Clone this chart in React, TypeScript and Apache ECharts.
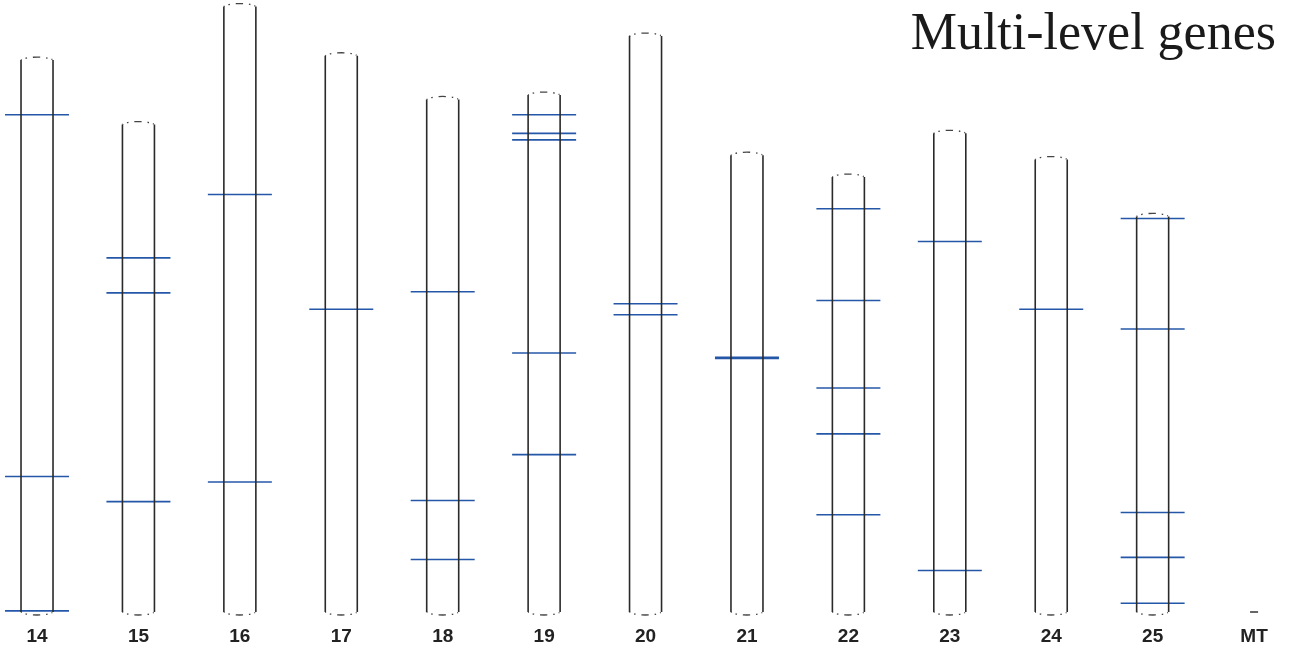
import React, { useEffect, useRef } from "react";
import * as echarts from "echarts";

// Chromosome names (x categories)
const chromosomes = ["14", "15", "16", "17", "18", "19", "20", "21", "22", "23", "24", "25", "MT"];
// Chromosome lengths (Mb, estimated)
const chromLengths = [50.5, 44.6, 55.4, 50.9, 46.9, 47.3, 52.7, 41.8, 39.8, 43.8, 41.4, 36.2, 0.05];
// Gene positions (Mb) per chromosome
const genes14 = [45.5, 12.4, 0.1];
const genes15 = [32.4, 29.2, 10.1];
const genes16 = [38.2, 11.9];
const genes17 = [27.7];
const genes18 = [29.3, 10.2, 4.8];
const genes19 = [45.5, 43.8, 43.2, 23.7, 14.4];
const genes20 = [28.2, 27.2];
const genes21 = [23.3, 23.2];
const genes22 = [36.9, 28.5, 20.5, 16.3, 8.9];
const genes23 = [33.9, 3.8];
const genes24 = [27.7];
const genes25 = [36.0, 25.9, 9.1, 5.0, 0.8];
const genesMT: number[] = [];
const geneLists = [genes14, genes15, genes16, genes17, genes18, genes19, genes20, genes21, genes22, genes23, genes24, genes25, genesMT];
const title = "Multi-level genes";

export default function App() {
  const ref = useRef<HTMLDivElement>(null);
  useEffect(() => {
    if (!ref.current) return;
    const chart = echarts.init(ref.current, null, { renderer: "svg" });
    const chromData = chromLengths.map((l, i) => [i, l]);
    const geneData: number[][] = [];
    geneLists.forEach((list, i) => list.forEach((p) => geneData.push([i, p])));
    const idxs = chromosomes.map((_, i) => i);
    const HW = 16;
    const GHW = 32;
    const capDash = [1, 4, 1.5, 6, 7, 6, 1.5, 4, 1];
    chart.setOption({
      animation: false,
      grid: { left: 0, right: 0, top: 0, bottom: 40 },
      xAxis: {
        type: "value",
        min: -0.365,
        max: 12.374,
        axisLine: { show: false },
        axisTick: { show: false },
        splitLine: { show: false },
        axisLabel: {
          customValues: idxs,
          formatter: (v: number) => chromosomes[Math.round(v)] ?? "",
          color: "#222",
          fontWeight: "bold",
          fontSize: 19,
          fontFamily: "'Liberation Sans', Arial, sans-serif",
          margin: 14,
        },
      },
      yAxis: { type: "value", min: 0, max: 56, show: false },
      graphic: [
        {
          type: "text",
          right: 16,
          top: 5,
          style: {
            text: title,
            fontSize: 52,
            fontFamily: "'Liberation Serif', 'DejaVu Serif', serif",
            fill: "#1a1a1a",
          },
        },
      ],
      series: [
        {
          type: "custom",
          z: 2,
          data: geneData,
          encode: { x: 0, y: 1 },
          renderItem: (params: any, api: any) => {
            const p = api.coord([api.value(0), api.value(1)]);
            return {
              type: "line",
              shape: { x1: p[0] - GHW, y1: p[1], x2: p[0] + GHW, y2: p[1] },
              style: { stroke: "#2457a8", lineWidth: 1.6 },
            };
          },
        },
        {
          type: "custom",
          z: 3,
          data: chromData,
          encode: { x: 0, y: 1 },
          renderItem: (params: any, api: any) => {
            const idx = api.value(0);
            const len = api.value(1);
            const b = api.coord([idx, 0]);
            const t = api.coord([idx, len]);
            const cx = b[0];
            const yb = b[1];
            const yt = t[1];
            if (yb - yt < 2) {
              return {
                type: "line",
                shape: { x1: cx - 4, y1: yb, x2: cx + 4, y2: yb },
                style: { stroke: "#333", lineWidth: 1.5 },
              };
            }
            const lineStyle = { stroke: "#2a2a2a", lineWidth: 1.6 };
            const capStyle = { stroke: "#444", lineWidth: 1.3, fill: "none", lineDash: capDash };
            return {
              type: "group",
              children: [
                { type: "line", shape: { x1: cx - HW, y1: yt, x2: cx - HW, y2: yb }, style: lineStyle },
                { type: "line", shape: { x1: cx + HW, y1: yt, x2: cx + HW, y2: yb }, style: lineStyle },
                {
                  type: "bezierCurve",
                  shape: { x1: cx - HW, y1: yt, cpx1: cx - HW + 5, cpy1: yt - 4, cpx2: cx + HW - 5, cpy2: yt - 4, x2: cx + HW, y2: yt },
                  style: capStyle,
                },
                {
                  type: "bezierCurve",
                  shape: { x1: cx - HW, y1: yb, cpx1: cx - HW + 5, cpy1: yb + 4, cpx2: cx + HW - 5, cpy2: yb + 4, x2: cx + HW, y2: yb },
                  style: capStyle,
                },
              ],
            };
          },
        },
      ],
    });
    return () => chart.dispose();
  }, []);
  return <div ref={ref} style={{ position: "fixed", left: 0, top: 0, width: 1292, height: 652 }} />;
}
